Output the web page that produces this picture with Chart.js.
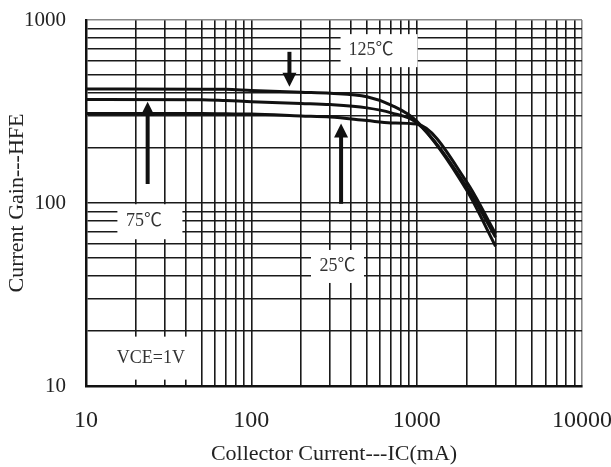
<!DOCTYPE html>
<html>
<head>
<meta charset="utf-8">
<script src="https://cdn.jsdelivr.net/npm/chart.js@4/dist/chart.umd.min.js"></script>
<style>
  html, body { margin: 0; padding: 0; background: #fff; }
  canvas { display: block; }
</style>
</head>
<body>
<canvas id="hfe" width="611" height="467"></canvas>
<script>
// collector current (mA) and hFE for each temperature, VCE = 1V
var collectorCurrent = [10, 50, 70, 100, 200, 300, 500, 700, 1000, 2000, 3000];
var hfe125 = [420, 419, 418, 412, 403, 398, 381, 343, 280, 118, 58];
var hfe75  = [368, 367, 363, 358, 350, 345, 331, 311, 275, 123, 65];
var hfe25  = [308, 308, 307, 306, 299, 295, 282, 274, 270, 131, 68];

var xTickLabels = [10, 100, 1000, 10000];
var yTickLabels = [10, 100, 1000];

var serif = "'Liberation Serif', 'Times New Roman', 'Noto Sans CJK TC', serif";

// grid lines at 1..9 of every decade
function decadeGrid(from, to) {
    var vals = [];
    for (var d = from; d < to; d *= 10) {
        for (var k = 1; k < 10; k++) vals.push(d * k);
    }
    vals.push(to);
    return vals;
}

function points(ys) {
    return collectorCurrent.map(function (x, i) { return { x: x, y: ys[i] }; });
}

function curve(label, ys) {
    return {
        label: label,
        data: points(ys),
        borderColor: '#111',
        borderWidth: 3,
        pointRadius: 0,
        fill: false,
        cubicInterpolationMode: 'monotone'
    };
}

// text boxes and arrows placed on the plot in data units
var notes = {
    id: 'notes',
    afterDatasetsDraw: function (chart) {
        var ctx = chart.ctx;
        var xs = chart.scales.x, ys = chart.scales.y;
        var labels = [
            { text: '125℃', x: 530, y: 680, w: 77, h: 33, dx: 8 },
            { text: '75℃', x: 22.4, y: 79, w: 65, h: 35, dx: 6 },
            { text: '25℃', x: 332, y: 45, w: 53, h: 33, dx: 0 },
            { text: 'VCE=1V', x: 24.7, y: 14.2, w: 107, h: 43, dx: -5 }
        ];
        var arrows = [
            { x: 170, from: 670, to: 432 },
            { x: 23.6, from: 127, to: 358 },
            { x: 349, from: 99, to: 272 }
        ];
        ctx.save();
        ctx.font = '18px ' + serif;
        ctx.textAlign = 'center';
        ctx.textBaseline = 'middle';
        labels.forEach(function (l) {
            var px = xs.getPixelForValue(l.x), py = ys.getPixelForValue(l.y);
            var bx = px + l.dx;
            ctx.fillStyle = '#fff';
            ctx.fillRect(Math.max(bx - l.w / 2, chart.chartArea.left + 2), py - l.h / 2, l.w, l.h);
            ctx.fillStyle = '#333';
            ctx.fillText(l.text, px, py);
        });
        ctx.fillStyle = '#111';
        ctx.strokeStyle = '#111';
        ctx.lineWidth = 4;
        arrows.forEach(function (a) {
            var px = xs.getPixelForValue(a.x);
            var y0 = ys.getPixelForValue(a.from), y1 = ys.getPixelForValue(a.to);
            var dir = y1 > y0 ? 1 : -1;
            ctx.beginPath();
            ctx.moveTo(px, y0);
            ctx.lineTo(px, y1 - dir * 12);
            ctx.stroke();
            ctx.beginPath();
            ctx.moveTo(px, y1);
            ctx.lineTo(px - 7, y1 - dir * 14);
            ctx.lineTo(px + 7, y1 - dir * 14);
            ctx.closePath();
            ctx.fill();
        });
        ctx.restore();
    }
};

function gridColor(edge) {
    return function (c) {
        return c.tick && c.tick.value === edge ? '#888' : '#1a1a1a';
    };
}

var ctx = document.getElementById('hfe').getContext('2d');
var myChart = new Chart(ctx, {
    type: 'line',
    data: {
        datasets: [
            curve('125℃', hfe125),
            curve('75℃', hfe75),
            curve('25℃', hfe25)
        ]
    },
    options: {
        responsive: false,
        animation: false,
        layout: { padding: { left: 0, top: 20, right: 29, bottom: 0 } },
        plugins: { legend: { display: false }, tooltip: { enabled: false } },
        scales: {
            x: {
                type: 'logarithmic',
                min: 10,
                max: 10000,
                afterBuildTicks: function (s) {
                    s.ticks = decadeGrid(10, 10000).map(function (v) { return { value: v }; });
                },
                // fixed axis band; edge labels may overhang the padding
                afterFit: function (s) {
                    s.height = 81;
                    s.paddingLeft = 0;
                    s.paddingRight = 0;
                },
                grid: { color: gridColor(10000), lineWidth: 1.6, drawTicks: false },
                border: { color: '#111', width: 2.5 },
                ticks: {
                    autoSkip: false,
                    maxRotation: 0,
                    padding: 20,
                    color: '#222',
                    font: { family: serif, size: 24 },
                    callback: function (v) { return xTickLabels.indexOf(v) >= 0 ? String(v) : ''; }
                },
                title: {
                    display: true,
                    text: 'Collector Current---IC(mA)',
                    color: '#222',
                    font: { family: serif, size: 22 },
                    padding: { top: 0, bottom: 0 }
                }
            },
            y: {
                type: 'logarithmic',
                min: 10,
                max: 1000,
                afterBuildTicks: function (s) {
                    s.ticks = decadeGrid(10, 1000).map(function (v) { return { value: v }; });
                },
                afterFit: function (s) {
                    s.width = 86;
                    s.paddingTop = 0;
                    s.paddingBottom = 0;
                },
                grid: { color: gridColor(1000), lineWidth: 1.6, drawTicks: false },
                border: { color: '#111', width: 2.5 },
                ticks: {
                    autoSkip: false,
                    padding: 20,
                    color: '#222',
                    font: { family: serif, size: 21 },
                    callback: function (v) { return yTickLabels.indexOf(v) >= 0 ? String(v) : ''; }
                },
                title: {
                    display: true,
                    text: 'Current Gain---HFE',
                    color: '#222',
                    font: { family: serif, size: 22 },
                    padding: { top: 4, bottom: 0 }
                }
            }
        }
    },
    plugins: [notes]
});
</script>
</body>
</html>
